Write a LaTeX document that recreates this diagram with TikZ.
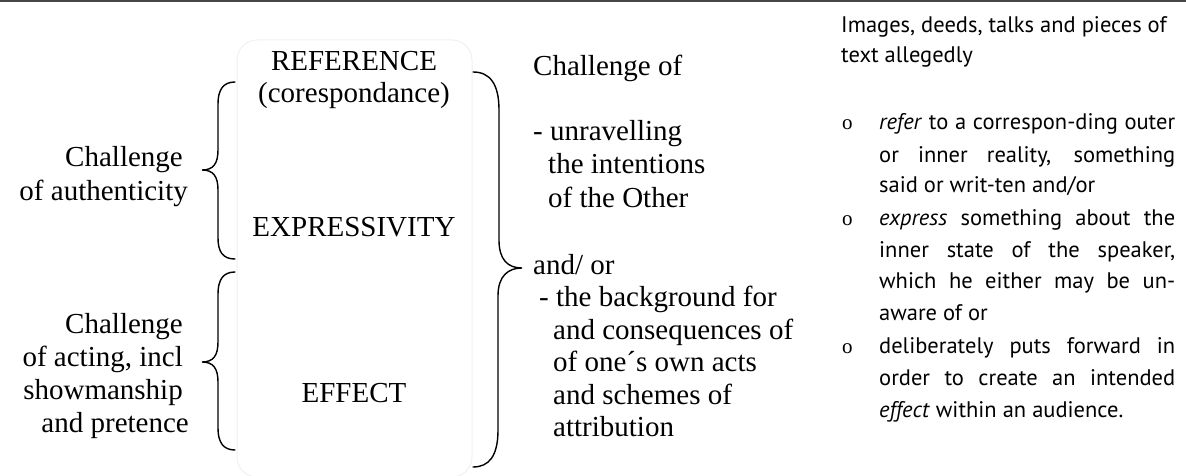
\documentclass[tikz,border=0pt]{standalone}
\usepackage{fontspec}
\setmainfont{Liberation Serif}
\newfontfamily\sansfont{PT Sans}
\begin{document}
\begin{tikzpicture}[x=1pt,y=-1pt,
  serif/.style={font=\fontsize{29}{32}\selectfont, inner sep=0pt},
  sans/.style={font=\sansfont\fontsize{22.5}{30}\selectfont, inner sep=0pt, anchor=base west},
  bullet/.style={font=\fontsize{21}{30}\selectfont, inner sep=0pt, anchor=base west},
  bracepath/.style={line width=1.4pt, line cap=round},
  framebox/.style={draw=black!6, line width=1pt, rounded corners=20pt}]
\useasboundingbox (0,0) rectangle (1186,476);
\fill[black!72] (0,0) rectangle (1186,2.5);
\draw[framebox] (237,40) rectangle (472,477);
% left braces
\draw[bracepath] (235,82) .. controls (223,82) and (218,90) .. (218,104) -- (218,150)
  .. controls (218,164) and (213,170) .. (202,170)
  .. controls (213,170) and (218,176) .. (218,190) -- (218,238)
  .. controls (218,252) and (223,259) .. (235,259);
\draw[bracepath] (235,272) .. controls (223,272) and (218,280) .. (218,294) -- (218,342)
  .. controls (218,356) and (213,362) .. (202,362)
  .. controls (213,362) and (218,368) .. (218,382) -- (218,428)
  .. controls (218,442) and (223,450) .. (235,450);
% right brace
\draw[bracepath] (473,72) .. controls (490,72) and (499,84) .. (499,110) -- (499,240)
  .. controls (499,260) and (508,268) .. (522,268)
  .. controls (508,268) and (498,276) .. (498,296) -- (498,430)
  .. controls (498,456) and (489,467) .. (473,467);
% left texts
\node[serif, anchor=base east] (a1) at (183,167) {Challenge};
\node[serif, anchor=base east] (a2) at (188,200) {of authenticity};
\node[serif, anchor=base east] (b1) at (183,333) {Challenge};
\node[serif, anchor=base east] (b2) at (183,366) {of acting, incl};
\node[serif, anchor=base east] (b3) at (183,399) {showmanship};
\node[serif, anchor=base east] (b4) at (189,432) {and pretence};
% centre texts
\node[serif, anchor=base] (r1) at (354,71) {REFERENCE};
\node[serif, anchor=base] (r2) at (354,103) {(corespondance)};
\node[serif, anchor=base] (ex) at (354,236) {EXPRESSIVITY};
\node[serif, anchor=base] (ef) at (354,402) {EFFECT};
% middle texts
\node[serif, anchor=base west] (m1) at (533,76) {Challenge of};
\node[serif, anchor=base west] (m2) at (533,141) {- unravelling};
\node[serif, anchor=base west] (m3) at (548,174) {the intentions};
\node[serif, anchor=base west] (m4) at (548,207) {of the Other};
\node[serif, anchor=base west] (m5) at (533,274) {and/ or};
\node[serif, anchor=base west] (m6) at (539,306) {- the background for};
\node[serif, anchor=base west] (m7) at (553,339) {and consequences of};
\node[serif, anchor=base west] (m8) at (553,371) {of one´s own acts};
\node[serif, anchor=base west] (m9) at (553,404) {and schemes of};
\node[serif, anchor=base west] (m10) at (553,436) {attribution};
% right texts
\node[sans] (h1) at (841,33) {Images, deeds, talks and pieces of};
\node[sans] (h2) at (841,63) {text allegedly};
\node[bullet] (o1) at (842,130) {o};
\node[bullet] (o2) at (842,225) {o};
\node[bullet] (o3) at (842,353) {o};
\node[sans] (t1) at (879,130) {\makebox[296pt][s]{\textit{refer} to a correspon-ding outer}};
\node[sans] (t2) at (879,162) {\makebox[296pt][s]{or inner reality, something}};
\node[sans] (t3) at (879,193) {said or writ-ten and/or};
\node[sans] (t4) at (879,225) {\makebox[296pt][s]{\textit{express} something about the}};
\node[sans] (t5) at (879,257) {\makebox[296pt][s]{inner state of the speaker,}};
\node[sans] (t6) at (879,288) {\makebox[296pt][s]{which he either may be un-}};
\node[sans] (t7) at (879,320) {aware of or};
\node[sans] (t8) at (879,353) {\makebox[296pt][s]{deliberately puts forward in}};
\node[sans] (t9) at (879,385) {\makebox[296pt][s]{order to create an intended}};
\node[sans] (t10) at (879,417) {\textit{effect} within an audience.};
\end{tikzpicture}
\end{document}
